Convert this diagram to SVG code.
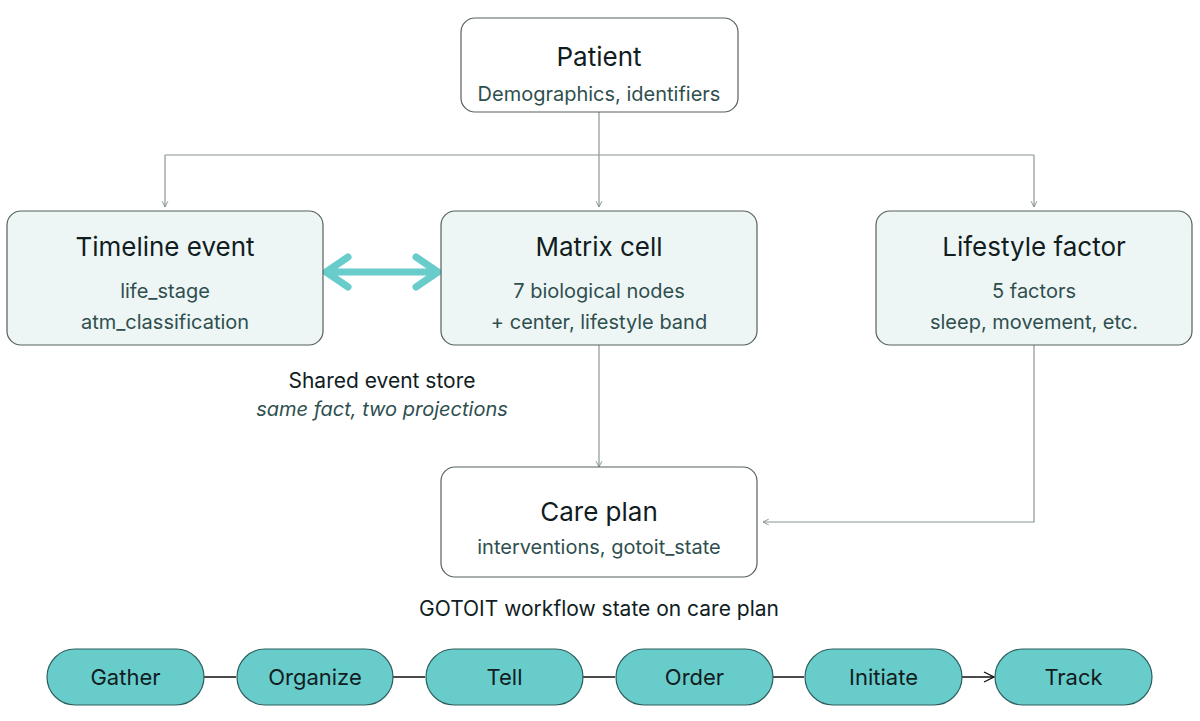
<svg xmlns="http://www.w3.org/2000/svg" width="1200" height="721" viewBox="0 0 1200 721">
<defs>
<marker id="a" viewBox="0 0 10 10" refX="9" refY="5" markerWidth="6" markerHeight="6" orient="auto"><path d="M1 1L9 5L1 9" fill="none" stroke="#7a8a86" stroke-width="1.2"/></marker>
<marker id="b" viewBox="0 0 12 12" refX="11" refY="6" markerWidth="12" markerHeight="12" markerUnits="userSpaceOnUse" orient="auto"><path d="M1 1L11 6L1 11" fill="none" stroke="#111" stroke-width="1.3"/></marker>
</defs>
<style>
text{font-family:Inter,"Noto Sans",sans-serif;text-anchor:middle}
.box{fill:#eef6f5;stroke:#55605d;stroke-width:1.2}
.wb{fill:#fff;stroke:#55605d;stroke-width:1.2}
.t{font-size:26px;fill:#111d1f}
.s{font-size:20px;fill:#2f4f4f}
.pill{fill:#68cccb;stroke:#2d5f5e;stroke-width:1.2}
.p{font-size:22px;fill:#111d1f}
.c{fill:none;stroke:#8a9692;stroke-width:1.2}
</style>
<g id="connectors">
<path class="c" d="M599 112V155M165 155H1034" />
<path class="c" d="M165 155V207" marker-end="url(#a)"/>
<path class="c" d="M599 155V207" marker-end="url(#a)"/>
<path class="c" d="M1034 155V207" marker-end="url(#a)"/>
<path class="c" d="M599 345V467" marker-end="url(#a)"/>
<path class="c" d="M1034 345V522H763" marker-end="url(#a)"/>
<path d="M326 272H438M348 257L326 272L348 287M416 257L438 272L416 287" fill="none" stroke="#68cccb" stroke-width="7" stroke-linecap="round" stroke-linejoin="round"/>
<path d="M204 677H236M393 677H425M583 677H615M773 677H804M962 677H994" stroke="#111" stroke-width="1.3" fill="none" marker-end="url(#b)"/>
</g>
<g id="patient"><rect class="wb" x="461" y="18" width="277" height="94" rx="14"/><text class="t" x="599" y="66">Patient</text><text class="s" x="599" y="101">Demographics, identifiers</text></g>
<g id="timeline"><rect class="box" x="7" y="211" width="316" height="134" rx="14"/><text class="t" x="165" y="256">Timeline event</text><text class="s" x="165" y="298">life_stage</text><text class="s" x="165" y="329">atm_classification</text></g>
<g id="matrix"><rect class="box" x="441" y="211" width="316" height="134" rx="14"/><text class="t" x="599" y="256">Matrix cell</text><text class="s" x="599" y="298">7 biological nodes</text><text class="s" x="599" y="329">+ center, lifestyle band</text></g>
<g id="lifestyle"><rect class="box" x="876" y="211" width="316" height="134" rx="14"/><text class="t" x="1034" y="256">Lifestyle factor</text><text class="s" x="1034" y="298">5 factors</text><text class="s" x="1034" y="329">sleep, movement, etc.</text></g>
<g id="store"><text x="382" y="388" style="font-size:21px;fill:#111d1f">Shared event store</text><text x="382" y="416" style="font-size:20px;fill:#2f4f4f;font-style:italic">same fact, two projections</text></g>
<g id="careplan"><rect class="wb" x="441" y="467" width="316" height="110" rx="14"/><text class="t" x="599" y="521">Care plan</text><text class="s" x="599" y="554">interventions, gotoit_state</text></g>
<text x="599" y="616" style="font-size:21px;fill:#111d1f">GOTOIT workflow state on care plan</text>
<g id="gather"><rect class="pill" x="47" y="649" width="157" height="56" rx="28"/><text class="p" x="125.5" y="685">Gather</text></g>
<g id="organize"><rect class="pill" x="237" y="649" width="156" height="56" rx="28"/><text class="p" x="315" y="685">Organize</text></g>
<g id="tell"><rect class="pill" x="426" y="649" width="157" height="56" rx="28"/><text class="p" x="504.5" y="685">Tell</text></g>
<g id="order"><rect class="pill" x="616" y="649" width="157" height="56" rx="28"/><text class="p" x="694.5" y="685">Order</text></g>
<g id="initiate"><rect class="pill" x="805" y="649" width="157" height="56" rx="28"/><text class="p" x="883.5" y="685">Initiate</text></g>
<g id="track"><rect class="pill" x="995" y="649" width="157" height="56" rx="28"/><text class="p" x="1073.5" y="685">Track</text></g>
</svg>
